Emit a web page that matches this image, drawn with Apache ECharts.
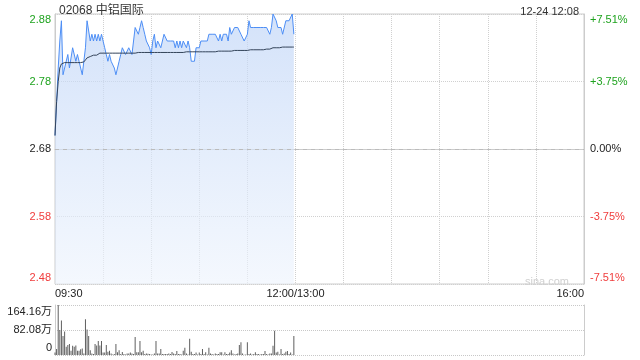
<!DOCTYPE html>
<html>
<head>
<meta charset="utf-8">
<script src="https://cdn.jsdelivr.net/npm/echarts@6/dist/echarts.min.js"></script>
<style>html,body{margin:0;padding:0;background:#fff;}#c{width:640px;height:360px;}</style>
</head>
<body>
<div id="c"></div>
<script>
var prevClose = 2.68;
var priceLabels = ['2.48', '2.58', '2.68', '2.78', '2.88'];
var pctLabels = ['-7.51%', '-3.75%', '0.00%', '+3.75%', '+7.51%'];
var volLabels = ['0', '82.08万', '164.16万'];
var timeTickMinutes = [0, 150, 330];
var timeTickLabels = ['09:30', '12:00/13:00', '16:00'];

// one value per minute from 09:30
var prices = [
2.70,2.75,2.80,2.84,2.87,2.79,2.80,2.80,2.82,2.80,
2.80,2.83,2.83,2.81,2.82,2.81,2.80,2.79,2.81,2.83,
2.87,2.87,2.84,2.85,2.84,2.85,2.84,2.85,2.84,2.85,
2.84,2.83,2.82,2.81,2.82,2.81,2.81,2.80,2.79,2.80,
2.81,2.82,2.83,2.83,2.82,2.82,2.83,2.83,2.82,2.82,
2.86,2.86,2.85,2.86,2.87,2.86,2.85,2.84,2.84,2.83,
2.82,2.84,2.85,2.83,2.84,2.84,2.83,2.83,2.85,2.85,
2.84,2.84,2.84,2.84,2.84,2.83,2.84,2.83,2.84,2.83,
2.84,2.84,2.83,2.84,2.83,2.81,2.81,2.81,2.83,2.83,
2.83,2.84,2.84,2.84,2.84,2.84,2.85,2.85,2.85,2.85,
2.85,2.85,2.84,2.85,2.84,2.85,2.85,2.85,2.84,2.86,
2.85,2.85,2.86,2.86,2.86,2.86,2.85,2.85,2.84,2.84,
2.85,2.87,2.86,2.86,2.86,2.86,2.86,2.86,2.86,2.86,
2.86,2.86,2.86,2.86,2.85,2.86,2.88,2.88,2.87,2.86,
2.86,2.86,2.85,2.85,2.87,2.87,2.87,2.87,2.88,2.85
];
var avgPrices = [
2.700,2.750,2.780,2.800,2.806,2.808,2.808,2.808,2.808,2.808,
2.808,2.808,2.808,2.808,2.808,2.808,2.808,2.808,2.809,2.812,
2.815,2.816,2.817,2.818,2.819,2.819,2.819,2.819,2.822,2.822,
2.822,2.822,2.822,2.822,2.822,2.822,2.822,2.822,2.822,2.822,
2.822,2.822,2.822,2.822,2.822,2.822,2.822,2.822,2.822,2.822,
2.822,2.823,2.823,2.823,2.823,2.823,2.823,2.823,2.823,2.823,
2.823,2.823,2.823,2.823,2.823,2.823,2.823,2.823,2.823,2.823,
2.823,2.823,2.823,2.823,2.823,2.823,2.823,2.823,2.823,2.823,
2.823,2.824,2.824,2.824,2.824,2.824,2.824,2.824,2.824,2.824,
2.824,2.824,2.824,2.824,2.824,2.824,2.824,2.824,2.824,2.824,
2.824,2.825,2.825,2.825,2.825,2.825,2.825,2.825,2.825,2.825,
2.825,2.826,2.826,2.826,2.826,2.826,2.826,2.826,2.826,2.826,
2.826,2.827,2.827,2.827,2.827,2.827,2.827,2.827,2.827,2.827,
2.827,2.828,2.828,2.828,2.828,2.828,2.830,2.830,2.830,2.830,
2.830,2.831,2.831,2.831,2.831,2.831,2.831,2.831,2.831,2.831
];
// volume in 万 per minute
var volumes = [
8,20,164,82,113,62,77,27,33,36,
14,30,27,31,14,14,19,21,5,117,
84,62,16,5,3,36,31,46,31,46,
8,8,33,11,14,5,2,3,36,9,
16,3,10,3,2,5,5,8,5,3,
59,9,9,46,9,14,3,5,4,3,
2,2,5,46,5,5,20,3,3,3,
3,5,3,10,5,3,13,3,3,2,
14,24,5,2,53,11,3,3,8,2,
8,3,20,3,9,2,24,5,3,2,
5,3,3,9,9,2,9,3,3,8,
16,5,2,3,5,33,42,5,1,2,
42,3,5,2,3,9,3,3,2,3,
3,13,3,2,5,5,30,80,8,11,
2,20,3,5,11,13,3,8,2,62
];

var FONT = "'Liberation Sans', Arial, 'Noto Sans CJK SC', sans-serif";
var GREEN = '#1fa31f', RED = '#f03c3c', DARK = '#222';

var priceData = prices.map(function (p, i) { return [i, +(p - prevClose).toFixed(4)]; });
var avgData = avgPrices.map(function (p, i) { return [i, +(p - prevClose).toFixed(4)]; });
var volData = volumes.map(function (v, i) { return [i, v]; });

function idxOf(v) { return Math.round(v / 0.1) + 2; }
function priceRich() {
  return {
    gt: { color: GREEN, padding: [12, 0, 0, 0], fontSize: 11, fontFamily: FONT },
    g: { color: GREEN, fontSize: 11, fontFamily: FONT },
    k: { color: DARK, fontSize: 11, fontFamily: FONT },
    r: { color: RED, fontSize: 11, fontFamily: FONT },
    rb: { color: RED, padding: [0, 0, 12, 0], fontSize: 11, fontFamily: FONT }
  };
}
var styleKeys = ['rb', 'r', 'k', 'g', 'gt'];

var chart = echarts.init(document.getElementById('c'), null, { renderer: 'canvas' });
chart.setOption({
  animation: false,
  backgroundColor: '#fff',
  textStyle: { fontFamily: FONT },
  title: [
    { text: '02068 中铝国际', left: 54, top: 0, textStyle: { fontSize: 12, fontWeight: 'normal', color: '#333', fontFamily: FONT } },
    { text: '12-24 12:08', right: 56, top: 1, textStyle: { fontSize: 11, fontWeight: 'normal', color: '#333', fontFamily: FONT } },
    { text: 'sina.com', right: 66, top: 271, textStyle: { fontSize: 11, fontWeight: 'normal', color: '#d0d0d0', fontFamily: FONT } }
  ],
  grid: [
    { left: 55, top: 14, width: 529, height: 270, show: true, borderColor: '#ccc', borderWidth: 1, containLabel: false },
    { left: 55, top: 305, width: 529, height: 50, show: false, containLabel: false }
  ],
  xAxis: [
    {
      type: 'value', gridIndex: 0, min: 0, max: 330, interval: 30,
      axisLine: { show: true, lineStyle: { color: '#ccc' } },
      axisTick: { show: false },
      splitLine: { show: true, lineStyle: { color: '#d0d0d0', type: 'dotted' } },
      axisLabel: {
        margin: 4, fontSize: 11, color: '#222', fontFamily: FONT,
        alignMinLabel: 'left', alignMaxLabel: 'right',
        formatter: function (v) {
          var k = timeTickMinutes.indexOf(Math.round(v));
          return k >= 0 ? timeTickLabels[k] : '';
        }
      }
    },
    {
      type: 'value', gridIndex: 1, min: 0, max: 330, interval: 30,
      axisLine: { show: false }, axisTick: { show: false }, axisLabel: { show: false },
      splitLine: { show: false }
    }
  ],
  yAxis: [
    {
      type: 'value', gridIndex: 0, min: -0.2, max: 0.2, interval: 0.1,
      axisLine: { show: true, lineStyle: { color: '#ccc' } },
      axisTick: { show: false },
      splitLine: { show: true, lineStyle: { color: '#d0d0d0', type: 'dotted' } },
      axisLabel: {
        margin: 4, rich: priceRich(),
        formatter: function (v) { var i = idxOf(v); return '{' + styleKeys[i] + '|' + priceLabels[i] + '}'; }
      }
    },
    {
      type: 'value', gridIndex: 0, min: -0.2, max: 0.2, interval: 0.1, position: 'right',
      axisLine: { show: true, lineStyle: { color: '#ccc' } },
      axisTick: { show: false },
      splitLine: { show: false },
      axisLabel: {
        margin: 6, rich: priceRich(),
        formatter: function (v) { var i = idxOf(v); return '{' + styleKeys[i] + '|' + pctLabels[i] + '}'; }
      }
    },
    {
      type: 'value', gridIndex: 1, min: 0, max: 164.16, interval: 82.08,
      axisLine: { show: true, lineStyle: { color: '#ccc' } },
      axisTick: { show: false },
      splitLine: { show: true, lineStyle: { color: '#c8c8c8', type: 'dotted', width: 1 } },
      axisLabel: {
        margin: 3,
        rich: {
          t: { color: '#222', fontSize: 11, padding: [14, 0, 0, 0], fontFamily: FONT },
          m: { color: '#222', fontSize: 11, fontFamily: FONT },
          b: { color: '#222', fontSize: 11, padding: [0, 0, 14, 0], fontFamily: FONT }
        },
        formatter: function (v) {
          var i = Math.round(v / 82.08);
          var key = i === 2 ? 't' : (i === 0 ? 'b' : 'm');
          return '{' + key + '|' + volLabels[i] + '}';
        }
      }
    },
    {
      type: 'value', gridIndex: 1, min: 0, max: 164.16, interval: 82.08, position: 'right',
      axisLine: { show: true, lineStyle: { color: '#ccc' } },
      axisTick: { show: false }, axisLabel: { show: false }, splitLine: { show: false }
    }
  ],
  series: [
    {
      type: 'line', xAxisIndex: 0, yAxisIndex: 0, data: priceData,
      showSymbol: false, symbol: 'none',
      lineStyle: { color: '#4d8ef5', width: 1 },
      areaStyle: {
        origin: 'start',
        color: new echarts.graphic.LinearGradient(0, 0, 0, 1, [
          { offset: 0, color: 'rgba(190,212,247,0.95)' },
          { offset: 1, color: 'rgba(238,244,253,0.9)' }
        ])
      },
      markLine: {
        silent: true, symbol: 'none', label: { show: false },
        lineStyle: { color: '#bbb', type: [4, 4], width: 1 },
        data: [{ yAxis: 0 }]
      },
      z: 2
    },
    {
      type: 'line', xAxisIndex: 0, yAxisIndex: 0, data: avgData,
      showSymbol: false, symbol: 'none',
      lineStyle: { color: '#34445a', width: 1 },
      z: 3
    },
    {
      type: 'bar', xAxisIndex: 1, yAxisIndex: 2, data: volData,
      barWidth: 1, itemStyle: { color: '#5f5f5f' }
    }
  ]
});
</script>
</body>
</html>
